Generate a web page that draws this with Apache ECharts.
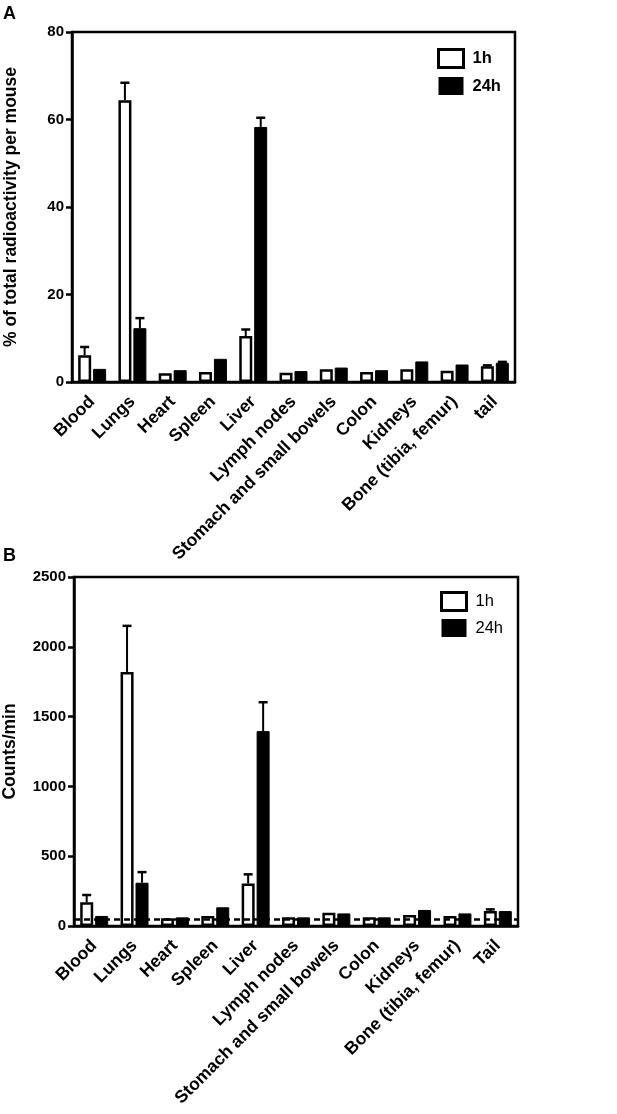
<!DOCTYPE html>
<html>
<head>
<meta charset="utf-8">
<script src="https://cdn.jsdelivr.net/npm/echarts@6/dist/echarts.min.js"></script>
<style>
html,body{margin:0;padding:0;background:#fff;}
#chart{width:617px;height:1114px;}
</style>
</head>
<body>
<div id="chart"></div>
<script>
// Categories
const categoriesA = ['Blood','Lungs','Heart','Spleen','Liver','Lymph nodes','Stomach and small bowels','Colon','Kidneys','Bone (tibia, femur)','tail'];
const categoriesB = ['Blood','Lungs','Heart','Spleen','Liver','Lymph nodes','Stomach and small bowels','Colon','Kidneys','Bone (tibia, femur)','Tail'];
// Panel A: % of total radioactivity per mouse
const pctA_1h  = [6.1, 64.4, 2.0, 2.3, 10.5, 2.1, 2.9, 2.3, 2.9, 2.6, 3.6];
const pctA_1hErr  = [1.9, 4.0, 0, 0, 1.5, 0, 0, 0, 0, 0, 0.2];
const pctA_24h = [3.0, 12.3, 2.7, 5.3, 58.3, 2.5, 3.3, 2.7, 4.7, 4.0, 4.4];
const pctA_24hErr = [0, 2.3, 0, 0, 2.1, 0, 0, 0, 0, 0, 0.2];
const ticksA = [0, 20, 40, 60, 80];
// Panel B: Counts/min
const cpmB_1h  = [170, 1820, 55, 72, 305, 62, 95, 62, 79, 72, 107];
const cpmB_1hErr  = [52, 330, 0, 0, 65, 0, 0, 0, 0, 0, 12];
const cpmB_24h = [72, 310, 62, 134, 1396, 62, 90, 62, 115, 90, 107];
const cpmB_24hErr = [0, 76, 0, 0, 207, 0, 0, 0, 0, 0, 0];
const ticksB = [0, 500, 1000, 1500, 2000, 2500];
const backgroundB = 45;

const BAR_W = 13, GAP = '15%', OFF = 7.5;
const FONT = 'Liberation Sans, Arial, Helvetica, sans-serif';

function errData(vals, errs){
  return vals.map((v,i)=>[i, v, errs[i]]);
}
function errSeries(xi, yi, vals, errs, off){
  return {
    type:'custom', xAxisIndex:xi, yAxisIndex:yi, z:5, silent:true,
    data: errData(vals, errs),
    encode:{x:0, y:1},
    renderItem:function(params, api){
      const c = api.value(0), v = api.value(1), e = api.value(2);
      if(!(e > 0)) return null;
      const p0 = api.coord([c, v]);
      const p1 = api.coord([c, v + e]);
      const x = p0[0] + off;
      return {type:'group', children:[
        {type:'line', shape:{x1:x, y1:p0[1], x2:x, y2:p1[1]}, style:{stroke:'#000', lineWidth:2}},
        {type:'line', shape:{x1:x-4.5, y1:p1[1], x2:x+4.5, y2:p1[1]}, style:{stroke:'#000', lineWidth:2.5}}
      ]};
    }
  };
}

function xAxisCfg(grid, cats){
  return {
    type:'category', gridIndex:grid, data:cats,
    axisLine:{lineStyle:{color:'#000', width:2.5}},
    axisTick:{alignWithLabel:true, length:8, lineStyle:{color:'#000', width:2.5}},
    axisLabel:{interval:0, rotate:45, margin:17, color:'#000', fontWeight:'bold', fontSize:17.5, fontFamily:FONT}
  };
}
function yAxisCfg(grid, ticks, name, gap, nameSize){
  return {
    type:'value', gridIndex:grid, min:ticks[0], max:ticks[ticks.length-1], interval:ticks[1]-ticks[0],
    name:name, nameLocation:'middle', nameGap:gap,
    nameTextStyle:{color:'#000', fontWeight:'bold', fontSize:nameSize, fontFamily:FONT},
    axisLine:{show:true, lineStyle:{color:'#000', width:2.5}},
    axisTick:{show:true, length:6, lineStyle:{color:'#000', width:2.5}},
    splitLine:{show:false},
    axisLabel:{margin:8, color:'#000', fontWeight:'bold', fontSize:15, fontFamily:FONT,
      formatter:function(v){return String(v);}}
  };
}
function legendCfg(left, top, weight, gap){
  return {
    left:left, top:top, orient:'vertical', padding:0, itemWidth:25, itemHeight:18, itemGap:gap,
    textStyle:{color:'#000', fontSize:16.5, fontWeight:weight, fontFamily:FONT, padding:[0,0,0,4]},
    data:[
      {name:'1h', icon:'rect', itemStyle:{color:'#fff', borderColor:'#000', borderWidth:3}},
      {name:'24h', icon:'rect', itemStyle:{color:'#000', borderColor:'#000', borderWidth:0}}
    ]
  };
}

const chart = echarts.init(document.getElementById('chart'), null, {renderer:'canvas'});
chart.setOption({
  animation:false,
  backgroundColor:'#fff',
  graphic:[
    {type:'text', left:3, top:5, style:{text:'A', fontSize:18, fontWeight:'bold', fontFamily:FONT, fill:'#000'}},
    {type:'text', left:3, top:547, style:{text:'B', fontSize:18, fontWeight:'bold', fontFamily:FONT, fill:'#000'}}
  ],
  grid:[
    {left:72, top:32, width:443, height:350, show:true, borderColor:'#000', borderWidth:2.5, backgroundColor:'transparent', containLabel:false, outerBoundsMode:'none'},
    {left:74, top:577, width:444, height:349, show:true, borderColor:'#000', borderWidth:2.5, backgroundColor:'transparent', containLabel:false, outerBoundsMode:'none'}
  ],
  legend:[legendCfg(437, 48, 'bold', 8), legendCfg(440, 591, 'normal', 7)],
  xAxis:[xAxisCfg(0, categoriesA), xAxisCfg(1, categoriesB)],
  yAxis:[yAxisCfg(0, ticksA, '% of total radioactivity per mouse', 52, 17.5), yAxisCfg(1, ticksB, 'Counts/min', 55, 17.5)],
  series:[
    {name:'1h', type:'bar', xAxisIndex:0, yAxisIndex:0, data:pctA_1h, barWidth:BAR_W, barGap:GAP,
     itemStyle:{color:'#fff', borderColor:'#000', borderWidth:2.5}},
    {name:'24h', type:'bar', xAxisIndex:0, yAxisIndex:0, data:pctA_24h, barWidth:BAR_W, barGap:GAP,
     itemStyle:{color:'#000', borderColor:'#000', borderWidth:1}},
    errSeries(0, 0, pctA_1h, pctA_1hErr, -OFF),
    errSeries(0, 0, pctA_24h, pctA_24hErr, OFF),
    {name:'1h', type:'bar', xAxisIndex:1, yAxisIndex:1, data:cpmB_1h, barWidth:BAR_W, barGap:GAP,
     itemStyle:{color:'#fff', borderColor:'#000', borderWidth:2.5}},
    {name:'24h', type:'bar', xAxisIndex:1, yAxisIndex:1, data:cpmB_24h, barWidth:BAR_W, barGap:GAP,
     itemStyle:{color:'#000', borderColor:'#000', borderWidth:1},
     markLine:{silent:true, symbol:'none', label:{show:false}, z:10,
       lineStyle:{color:'#000', width:2.5, type:[6,4]},
       data:[{yAxis:backgroundB}]}},
    errSeries(1, 1, cpmB_1h, cpmB_1hErr, -OFF),
    errSeries(1, 1, cpmB_24h, cpmB_24hErr, OFF)
  ]
});
</script>
</body>
</html>
